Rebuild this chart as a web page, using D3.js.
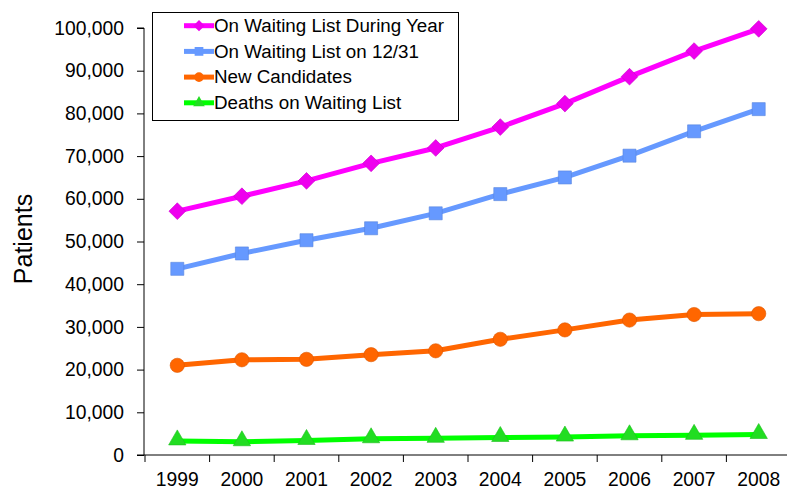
<!DOCTYPE html>
<html><head><meta charset="utf-8">
<script src="https://cdn.jsdelivr.net/npm/d3@7"></script>
<style>body{margin:0;background:#fff}svg{display:block}text{font-family:"Liberation Sans",Arial,sans-serif;fill:#000}</style>
</head><body><svg id="c" width="787" height="488"></svg>
<script>
const years = ["1999","2000","2001","2002","2003","2004","2005","2006","2007","2008"];
const duringYear = [57100,60600,64200,68300,71900,76800,82300,88600,94600,99800];
const onDec31 = [43600,47200,50300,53100,56600,61100,65000,70100,75800,81000];
const newCandidates = [21000,22300,22400,23500,24400,27100,29300,31600,32900,33100];
const deaths = [3300,3100,3400,3800,3900,4100,4200,4500,4600,4800];
const yTicks = [0,10000,20000,30000,40000,50000,60000,70000,80000,90000,100000];
const seriesNames = ["On Waiting List During Year","On Waiting List on 12/31","New Candidates","Deaths on Waiting List"];
const colors = ["#FF00FF","#6699FF","#FF6600","#00FF00"];
const markerFill = ["#EE00EE","#6699FF","#FF6600","#22DD22"];
const symbols = [d3.symbolSquare, d3.symbolSquare, d3.symbolCircle, d3.symbolTriangle];
const symRot = [45, 0, 0, 0];
const symSizes = [140, 170, 160, 130];
const allSeries = [duringYear, onDec31, newCandidates, deaths];

const svg = d3.select("#c");
const L = 144, R = 791, T = 28, B = 455;
const x = d3.scaleBand().domain(years).range([L + 1, R]);
const y = d3.scaleLinear().domain([0, 100000]).range([B, T]);
const FS = 19.3;

// axes
const yAx = svg.append("g").attr("transform", `translate(${L},0)`)
  .call(d3.axisLeft(y).tickValues(yTicks).tickSize(7).tickPadding(13).tickFormat(d3.format(",")));
yAx.select(".domain").attr("stroke", "#000").attr("d", `M-7,${B}H0V${T}H-7`);
yAx.selectAll("line").attr("stroke", "#000");
yAx.selectAll("text").attr("font-size", FS).attr("font-family", "Liberation Sans, Arial, sans-serif");

const xAx = svg.append("g").attr("transform", `translate(0,${B})`)
  .call(d3.axisBottom(x).tickSize(0).tickPadding(12));
xAx.select(".domain").attr("stroke", "#000").attr("d", `M${L},0H${R}`);
xAx.selectAll("text").attr("font-size", FS).attr("font-family", "Liberation Sans, Arial, sans-serif")
  .attr("dy", null).attr("y", 30.5);
// boundary ticks
const bounds = years.map(d => x(d)).concat([R]);
svg.append("g").selectAll("line").data(bounds).join("line")
  .attr("x1", d => d).attr("x2", d => d).attr("y1", B).attr("y2", B + 7).attr("stroke", "#000");

svg.append("text").attr("transform", "translate(32,239) rotate(-90)")
  .attr("text-anchor", "middle").attr("font-size", 25).text("Patients");

const cx = d => x(d) + x.bandwidth() / 2;
const line = d3.line().x((d, i) => cx(years[i])).y(d => y(d));

allSeries.forEach((s, k) => {
  svg.append("path").datum(s).attr("d", line).attr("fill", "none")
    .attr("stroke", colors[k]).attr("stroke-width", 5).attr("stroke-linejoin", "round");
});
allSeries.forEach((s, k) => {
  svg.append("g").selectAll("path").data(s).join("path")
    .attr("transform", (d, i) => `translate(${cx(years[i])},${y(d) + (k === 3 ? -1 : 0)}) rotate(${symRot[k]})`)
    .attr("d", d3.symbol(symbols[k], symSizes[k]))
    .attr("fill", markerFill[k]).attr("stroke", d3.color(markerFill[k]).darker(0.4)).attr("stroke-width", 0.6);
});

// legend
const lg = svg.append("g");
lg.append("rect").attr("x", 152.5).attr("y", 12.5).attr("width", 306).attr("height", 108)
  .attr("fill", "#fff").attr("stroke", "#000");
seriesNames.forEach((n, k) => {
  const ry = 25.7 + k * 25.7;
  lg.append("line").attr("x1", 184).attr("x2", 214).attr("y1", ry).attr("y2", ry)
    .attr("stroke", colors[k]).attr("stroke-width", 5);
  lg.append("path").attr("transform", `translate(199,${ry}) rotate(${symRot[k]})`)
    .attr("d", d3.symbol(symbols[k], symSizes[k] * 0.45)).attr("fill", markerFill[k]);
  lg.append("text").attr("x", 214).attr("y", ry + 6.3).attr("font-size", 18.8).text(n);
});
</script></body></html>
